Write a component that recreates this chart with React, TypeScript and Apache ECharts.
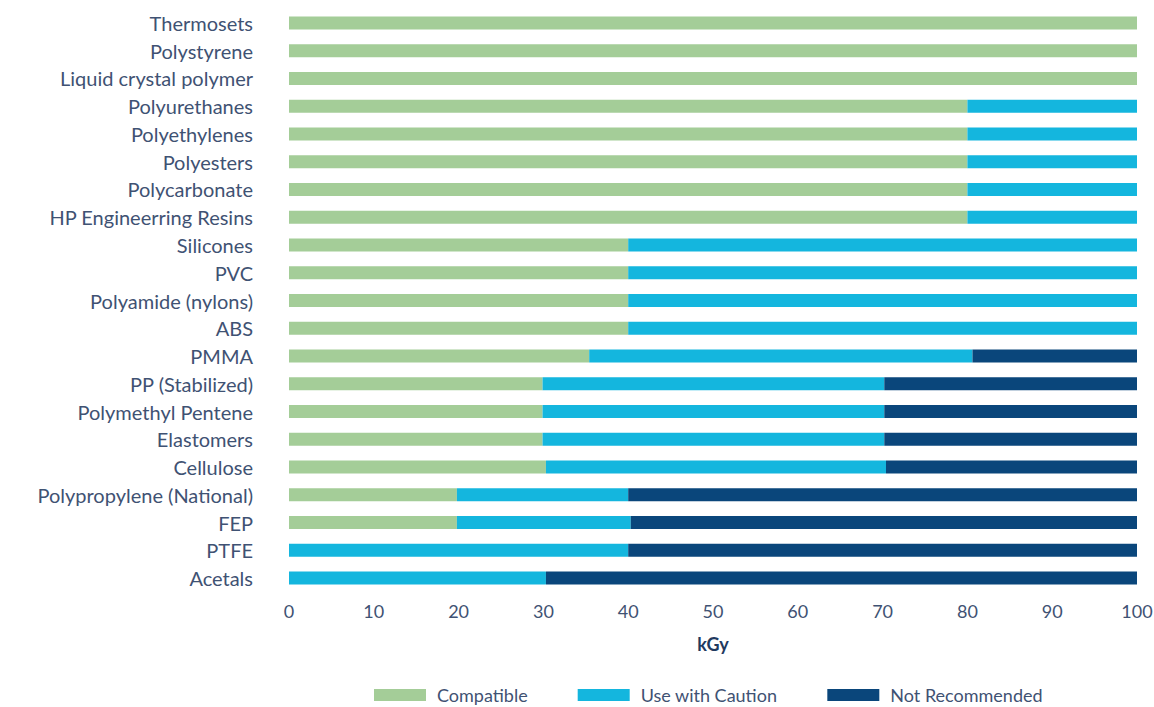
import React, { useEffect, useRef } from "react";
import * as echarts from "echarts";

const categories = [
  "Thermosets",
  "Polystyrene",
  "Liquid crystal polymer",
  "Polyurethanes",
  "Polyethylenes",
  "Polyesters",
  "Polycarbonate",
  "HP Engineerring Resins",
  "Silicones",
  "PVC",
  "Polyamide (nylons)",
  "ABS",
  "PMMA",
  "PP (Stabilized)",
  "Polymethyl Pentene",
  "Elastomers",
  "Cellulose",
  "Polypropylene (National)",
  "FEP",
  "PTFE",
  "Acetals",
];

const compatible = [100, 100, 100, 80, 80, 80, 80, 80, 40, 40, 40, 40, 35.4, 29.9, 29.9, 29.9, 30.3, 19.8, 19.8, 0, 0];
const caution = [0, 0, 0, 20, 20, 20, 20, 20, 60, 60, 60, 60, 45.2, 40.3, 40.3, 40.3, 40.1, 20.2, 20.5, 40, 30.3];
const notRecommended = [0, 0, 0, 0, 0, 0, 0, 0, 0, 0, 0, 0, 19.4, 29.8, 29.8, 29.8, 29.6, 60, 59.7, 60, 69.7];

const seriesNames = ["Compatible", "Use with Caution", "Not Recommended"];
const colors = ["#a4cd98", "#14b6de", "#0a467b"];
const textColor = "#3f5273";
const fontFamily = "Lato, 'Noto Sans', sans-serif";

export default function App() {
  const ref = useRef<HTMLDivElement>(null);
  useEffect(() => {
    if (!ref.current) return;
    const chart = echarts.init(ref.current, undefined, { renderer: "svg" });
    const dataSets = [compatible, caution, notRecommended];
    chart.setOption({
      animation: false,
      textStyle: { fontFamily },
      grid: { left: 289, right: 17, top: 9, height: 583, containLabel: false, outerBoundsMode: "none" },
      legend: {
        top: 681,
        left: 369,
        itemWidth: 52,
        itemHeight: 12,
        itemGap: 50,
        icon: "rect",
        data: seriesNames,
        textStyle: { color: textColor, fontSize: 18, fontFamily, padding: [0, 0, 0, 6] },
      },
      xAxis: {
        type: "value",
        min: 0,
        max: 100,
        interval: 10,
        axisLine: { show: false },
        axisTick: { show: false },
        splitLine: { show: false },
        axisLabel: { color: textColor, fontSize: 18, margin: 10, fontFamily },
        name: "kGy",
        nameLocation: "middle",
        nameGap: 43,
        nameTextStyle: { color: "#1f3a5f", fontSize: 18, fontWeight: "bold", fontFamily },
      },
      yAxis: {
        type: "category",
        data: categories,
        inverse: true,
        axisLine: { show: false },
        axisTick: { show: false },
        axisLabel: { color: textColor, fontSize: 20, margin: 36, fontFamily },
      },
      series: seriesNames.map((name, i) => ({
        name,
        type: "bar",
        stack: "total",
        barWidth: 13,
        itemStyle: { color: colors[i] },
        data: dataSets[i],
      })),
    });
    return () => chart.dispose();
  }, []);
  return <div ref={ref} style={{ width: 1154, height: 707, position: "absolute", left: 0, top: 0 }} />;
}
